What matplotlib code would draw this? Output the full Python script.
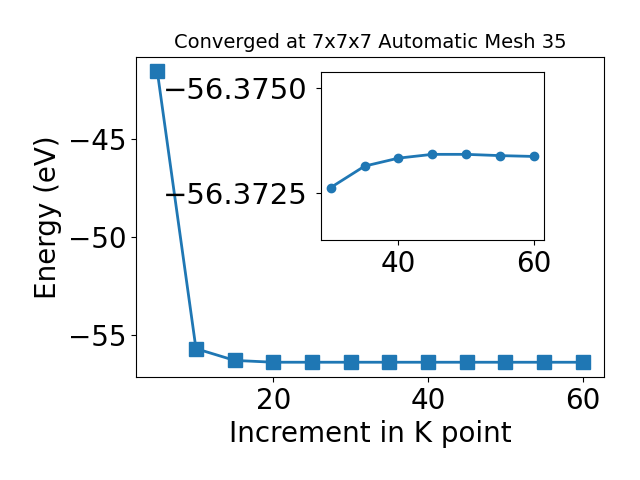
import matplotlib
matplotlib.use("Agg")
import matplotlib.pyplot as plt

kpoints = [5, 10, 15, 20, 25, 30, 35, 40, 45, 50, 55, 60]
energy = [-41.53, -55.68, -56.28, -56.3726, -56.3728, -56.37264, -56.37315,
          -56.37334, -56.37343, -56.37343, -56.3734, -56.37338]

inset_k = [30, 35, 40, 45, 50, 55, 60]
inset_e = [-56.37264, -56.37315, -56.37334, -56.37343, -56.37343, -56.3734, -56.37338]

fig = plt.figure(figsize=(6.4, 4.8), dpi=100)
ax = fig.add_axes([0.2125, 0.215, 0.7315, 0.667])
ax.plot(kpoints, energy, marker='s', markersize=10, linewidth=2, color='#1f77b4')
ax.set_xlabel('Increment in K point', fontsize=20)
ax.set_ylabel('Energy (eV)', fontsize=20)
ax.set_title('Converged at 7x7x7 Automatic Mesh 35', fontsize=14)
ax.tick_params(labelsize=20)
ax.set_xticks([20, 40, 60])
ax.set_yticks([-45, -50, -55])

ins = fig.add_axes([0.501, 0.5, 0.349, 0.349])
ins.plot(inset_k, inset_e, marker='o', markersize=6, linewidth=2, color='#1f77b4')
ins.set_ylim(-56.37139, -56.37538)
ins.set_xticks([40, 60])
ins.set_yticks([-56.3750, -56.3725])
ins.set_yticklabels(['\u221256.3750', '\u221256.3725'])
ins.tick_params(axis='x', labelsize=20)
ins.tick_params(axis='y', labelsize=21, pad=6)

fig.savefig('out.png', dpi=100)
